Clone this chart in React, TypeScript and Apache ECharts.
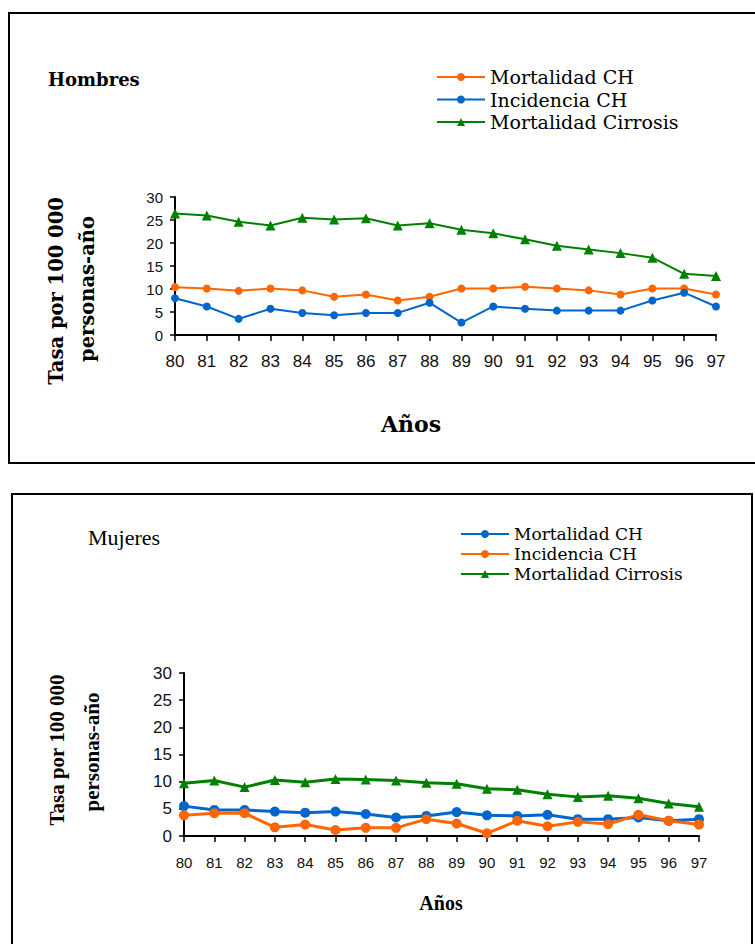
import React, { useEffect, useRef } from "react";
import * as echarts from "echarts";

const years = ["80","81","82","83","84","85","86","87","88","89","90","91","92","93","94","95","96","97"];
const yTicks = [0, 5, 10, 15, 20, 25, 30];

// Hombres
const hMortalidadCH = [10.4,10.1,9.6,10.1,9.7,8.3,8.8,7.5,8.3,10.1,10.1,10.5,10.1,9.7,8.8,10.1,10.1,8.8];
const hIncidenciaCH = [8.0,6.2,3.5,5.7,4.8,4.3,4.8,4.8,7.0,2.7,6.2,5.7,5.3,5.3,5.3,7.5,9.2,6.2];
const hCirrosis = [26.4,26.0,24.6,23.8,25.5,25.1,25.4,23.8,24.3,22.9,22.1,20.8,19.4,18.6,17.8,16.8,13.3,12.8];

// Mujeres
const mMortalidadCH = [5.5,4.8,4.8,4.5,4.3,4.5,4.05,3.4,3.7,4.4,3.8,3.7,3.9,3.1,3.1,3.4,2.8,3.1];
const mIncidenciaCH = [3.8,4.2,4.2,1.6,2.1,1.1,1.5,1.5,3.1,2.3,0.5,2.8,1.8,2.6,2.2,3.9,2.8,2.1];
const mCirrosis = [9.7,10.2,9.0,10.3,9.9,10.5,10.4,10.2,9.8,9.6,8.7,8.5,7.7,7.2,7.4,6.95,6.0,5.4];

const names = ["Mortalidad CH", "Incidencia CH", "Mortalidad Cirrosis"];

const ORANGE = "#FF6600";
const BLUE = "#0066CC";
const GREEN = "#008000";

export default function App() {
  const ref = useRef<HTMLDivElement>(null);
  useEffect(() => {
    if (!ref.current) return;
    const chart = echarts.init(ref.current, undefined, { renderer: "svg" });

    const yAxisCommon = (idx: number, fs: number, margin: number) => ({
      gridIndex: idx,
      type: "value",
      min: yTicks[0],
      max: yTicks[yTicks.length - 1],
      interval: 5,
      axisLine: { show: true, lineStyle: { color: "#000", width: 2 } },
      axisTick: { show: true, length: 5, lineStyle: { color: "#000", width: 1.5 } },
      splitLine: { show: false },
      axisLabel: { fontFamily: "Liberation Sans", fontSize: fs, color: "#111", margin },
    });
    const xAxisCommon = (idx: number, fs: number, margin: number) => ({
      gridIndex: idx,
      type: "category",
      data: years,
      boundaryGap: false,
      axisLine: { show: true, lineStyle: { color: "#000", width: 2 } },
      axisTick: { show: true, length: 6, lineStyle: { color: "#000", width: 1.5 } },
      axisLabel: { fontFamily: "Liberation Sans", fontSize: fs, color: "#111", margin, interval: 0 },
    });

    const line = (name: string, data: number[], color: string, symbol: string, size: number, width: number, idx: number) => ({
      name,
      type: "line",
      xAxisIndex: idx,
      yAxisIndex: idx,
      data,
      symbol,
      symbolSize: size,
      showAllSymbol: true,
      lineStyle: { color, width },
      itemStyle: { color },
    });

    const legendItem = (name: string, color: string) => ({
      name,
      itemStyle: { color },
      lineStyle: { color },
    });

    const rotText = (text: string, x: number, y: number, font: string, size: number, weight: string) => ({
      type: "text",
      x,
      y,
      rotation: Math.PI / 2,
      style: {
        text,
        fontFamily: font,
        fontSize: size,
        fontWeight: weight,
        fill: "#000",
        textAlign: "center",
        textVerticalAlign: "middle",
      },
    });
    const plainText = (text: string, x: number, y: number, font: string, size: number, weight: string, align = "left") => ({
      type: "text",
      x,
      y,
      style: {
        text,
        fontFamily: font,
        fontSize: size,
        fontWeight: weight,
        fill: "#000",
        textAlign: align,
        textVerticalAlign: "middle",
      },
    });

    chart.setOption({
      animation: false,
      backgroundColor: "#fff",
      grid: [
        { left: 175, top: 197, width: 541, height: 138 },
        { left: 184, top: 673, width: 515, height: 163 },
      ],
      xAxis: [xAxisCommon(0, 17, 18), xAxisCommon(1, 15, 19)],
      yAxis: [yAxisCommon(0, 15, 12), yAxisCommon(1, 17, 12)],
      legend: [
        {
          left: 431,
          top: 62.5,
          orient: "vertical",
          itemWidth: 48,
          itemHeight: 10,
          itemGap: 3.5,
          selectedMode: false,
          textStyle: { fontFamily: "DejaVu Serif", fontSize: 19, color: "#000" },
          data: [legendItem(names[0], ORANGE), legendItem(names[1], BLUE), legendItem(names[2], GREEN)],
        },
        {
          left: 455,
          top: 520.5,
          orient: "vertical",
          itemWidth: 48,
          itemHeight: 10,
          itemGap: 3,
          selectedMode: false,
          textStyle: { fontFamily: "DejaVu Serif", fontSize: 17, color: "#000" },
          data: [legendItem(names[0], BLUE), legendItem(names[1], ORANGE), legendItem(names[2], GREEN)],
        },
      ],
      series: [
        line(names[0], hMortalidadCH, ORANGE, "circle", 8, 2, 0),
        line(names[1], hIncidenciaCH, BLUE, "circle", 8, 2, 0),
        line(names[2], hCirrosis, GREEN, "triangle", 10, 2, 0),
        line(names[0], mMortalidadCH, BLUE, "circle", 10, 3, 1),
        line(names[1], mIncidenciaCH, ORANGE, "circle", 10, 3, 1),
        line(names[2], mCirrosis, GREEN, "triangle", 10, 3, 1),
      ],
      graphic: [
        {
          type: "rect",
          shape: { x: 9, y: 13, width: 760, height: 450 },
          style: { fill: "none", stroke: "#000", lineWidth: 2 },
          silent: true,
        },
        {
          type: "rect",
          shape: { x: 12, y: 494, width: 740, height: 470 },
          style: { fill: "none", stroke: "#000", lineWidth: 2 },
          silent: true,
        },
        plainText("Hombres", 48, 79, "DejaVu Serif", 18, "bold"),
        rotText("Tasa por 100 000", 56, 291, "DejaVu Serif", 19.5, "bold"),
        rotText("personas-año", 87, 289, "DejaVu Serif", 19.5, "bold"),
        plainText("Años", 411, 424, "DejaVu Serif", 22, "bold", "center"),
        plainText("Mujeres", 88, 537, "Liberation Serif", 22, "normal"),
        rotText("Tasa por 100 000", 57, 750, "Liberation Serif", 21, "bold"),
        rotText("personas-año", 92, 752, "Liberation Serif", 21, "bold"),
        plainText("Años", 441, 903, "Liberation Serif", 20, "bold", "center"),
      ],
    });
    return () => chart.dispose();
  }, []);
  return (
    <div
      ref={ref}
      style={{ position: "absolute", left: 0, top: 0, width: 755, height: 944, background: "#fff" }}
    />
  );
}
